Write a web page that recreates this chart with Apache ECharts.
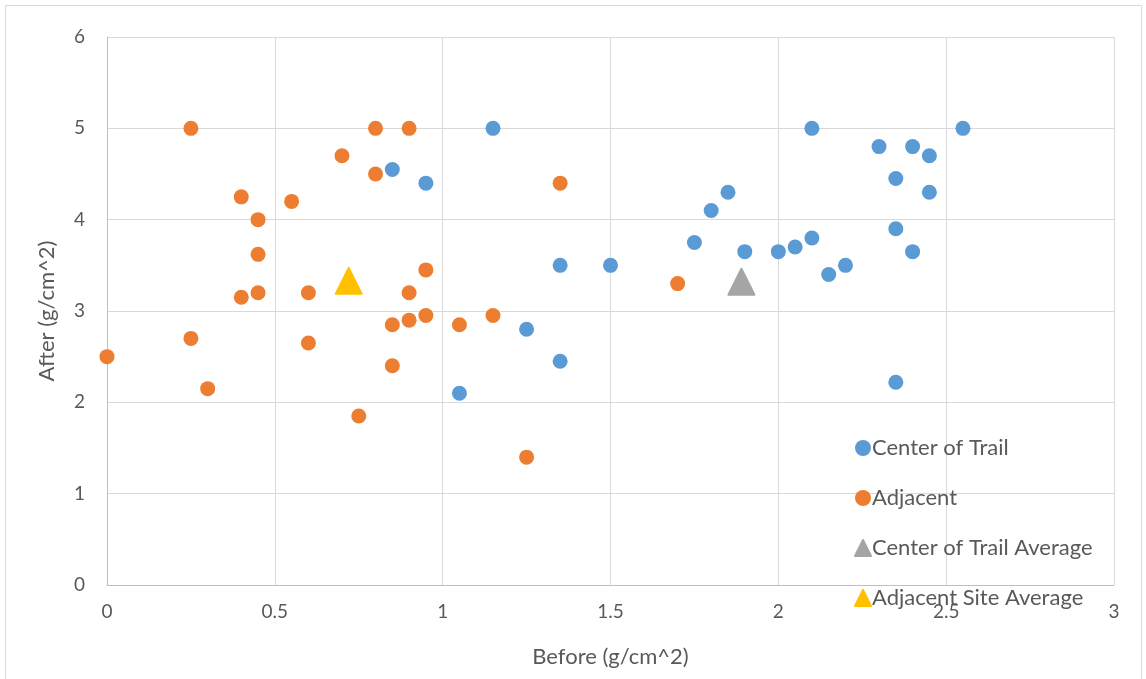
<!DOCTYPE html>
<html>
<head>
<meta charset="utf-8">
<script src="https://cdn.jsdelivr.net/npm/echarts@6/dist/echarts.min.js"></script>
<style>
  html, body { margin: 0; padding: 0; background: #fff; }
  #chart { width: 1146px; height: 679px; }
</style>
</head>
<body>
<div id="chart"></div>
<script>
// Soil density before vs after, per sample site
const centerBefore = [0.85, 0.95, 1.05, 1.15, 1.25, 1.35, 1.35, 1.5, 1.75, 1.8, 1.85, 1.9, 2.0, 2.05, 2.1, 2.1, 2.15, 2.2, 2.3, 2.35, 2.35, 2.35, 2.4, 2.4, 2.45, 2.45, 2.55];
const centerAfter  = [4.55, 4.4, 2.1, 5.0, 2.8, 3.5, 2.45, 3.5, 3.75, 4.1, 4.3, 3.65, 3.65, 3.7, 3.8, 5.0, 3.4, 3.5, 4.8, 4.45, 3.9, 2.22, 4.8, 3.65, 4.7, 4.3, 5.0];

const adjBefore = [0, 0.25, 0.25, 0.3, 0.4, 0.4, 0.45, 0.45, 0.45, 0.55, 0.6, 0.6, 0.7, 0.75, 0.8, 0.8, 0.85, 0.85, 0.9, 0.9, 0.9, 0.95, 0.95, 1.05, 1.15, 1.25, 1.35, 1.7];
const adjAfter  = [2.5, 5.0, 2.7, 2.15, 4.25, 3.15, 4.0, 3.62, 3.2, 4.2, 3.2, 2.65, 4.7, 1.85, 5.0, 4.5, 2.85, 2.4, 5.0, 3.2, 2.9, 3.45, 2.95, 2.85, 2.95, 1.4, 4.4, 3.3];

const centerAvg = [1.89, 3.32];
const adjAvg = [0.72, 3.33];

const seriesNames = ['Center of Trail', 'Adjacent', 'Center of Trail Average', 'Adjacent Site Average'];
const xTicks = [0, 0.5, 1, 1.5, 2, 2.5, 3];
const yTicks = [0, 1, 2, 3, 4, 5, 6];

const pairs = (xs, ys) => xs.map((x, i) => [x, ys[i]]);

const FONT = 'Lato';
const TXT = '#595959';

const chart = echarts.init(document.getElementById('chart'), null, { renderer: 'canvas' });
chart.setOption({
  backgroundColor: '#fff',
  animation: false,
  textStyle: { fontFamily: FONT, color: TXT },
  graphic: [{
    type: 'rect',
    shape: { x: 5.5, y: 5.5, width: 1136, height: 680 },
    style: { fill: 'none', stroke: '#d9d9d9', lineWidth: 1 },
    silent: true
  }],
  grid: { left: 107, right: 32, top: 37, bottom: 94, containLabel: false },
  legend: {
    orient: 'vertical',
    left: 849,
    top: 432,
    itemGap: 28,
    itemWidth: 16,
    itemHeight: 16,
    itemStyle: { opacity: 1 },
    textStyle: { fontFamily: FONT, fontSize: 22, lineHeight: 22, color: TXT, padding: [0, 0, 0, -4] },
    data: seriesNames.map((n, i) => ({ name: n, icon: i < 2 ? 'circle' : 'triangle' }))
  },
  xAxis: {
    type: 'value',
    min: 0, max: 3, interval: 0.5,
    name: 'Before (g/cm^2)',
    nameLocation: 'middle',
    nameGap: 61,
    nameTextStyle: { fontFamily: FONT, fontSize: 22, color: TXT },
    axisLine: { show: true, lineStyle: { color: '#bfbfbf', width: 1 } },
    axisTick: { show: false },
    axisLabel: { fontFamily: FONT, fontSize: 19, color: TXT, margin: 17,
      formatter: v => xTicks.includes(v) ? String(v) : '' },
    splitLine: { show: true, lineStyle: { color: '#d9d9d9', width: 1 } }
  },
  yAxis: {
    type: 'value',
    min: 0, max: 6, interval: 1,
    name: 'After (g/cm^2)',
    nameLocation: 'middle',
    nameGap: 49,
    nameRotate: 90,
    nameTextStyle: { fontFamily: FONT, fontSize: 22, color: TXT },
    axisLine: { show: true, lineStyle: { color: '#bfbfbf', width: 1 } },
    axisTick: { show: false },
    axisLabel: { fontFamily: FONT, fontSize: 19, color: TXT, margin: 22,
      formatter: v => yTicks.includes(v) ? String(v) : '' },
    splitLine: { show: true, lineStyle: { color: '#d9d9d9', width: 1 } }
  },
  series: [
    {
      name: seriesNames[0], type: 'scatter', symbol: 'circle', symbolSize: 15,
      itemStyle: { color: '#5b9bd5', opacity: 1 }, data: pairs(centerBefore, centerAfter)
    },
    {
      name: seriesNames[1], type: 'scatter', symbol: 'circle', symbolSize: 15,
      itemStyle: { color: '#ed7d31', opacity: 1 }, data: pairs(adjBefore, adjAfter)
    },
    {
      name: seriesNames[2], type: 'scatter', symbol: 'triangle', symbolSize: [26, 26],
      itemStyle: { color: '#a5a5a5', opacity: 1, borderColor: '#a5a5a5', borderWidth: 2, borderJoin: 'round' },
      data: [centerAvg]
    },
    {
      name: seriesNames[3], type: 'scatter', symbol: 'triangle', symbolSize: [26, 26],
      itemStyle: { color: '#ffc000', opacity: 1, borderColor: '#ffc000', borderWidth: 2, borderJoin: 'round' },
      data: [adjAvg]
    }
  ]
});
</script>
</body>
</html>
